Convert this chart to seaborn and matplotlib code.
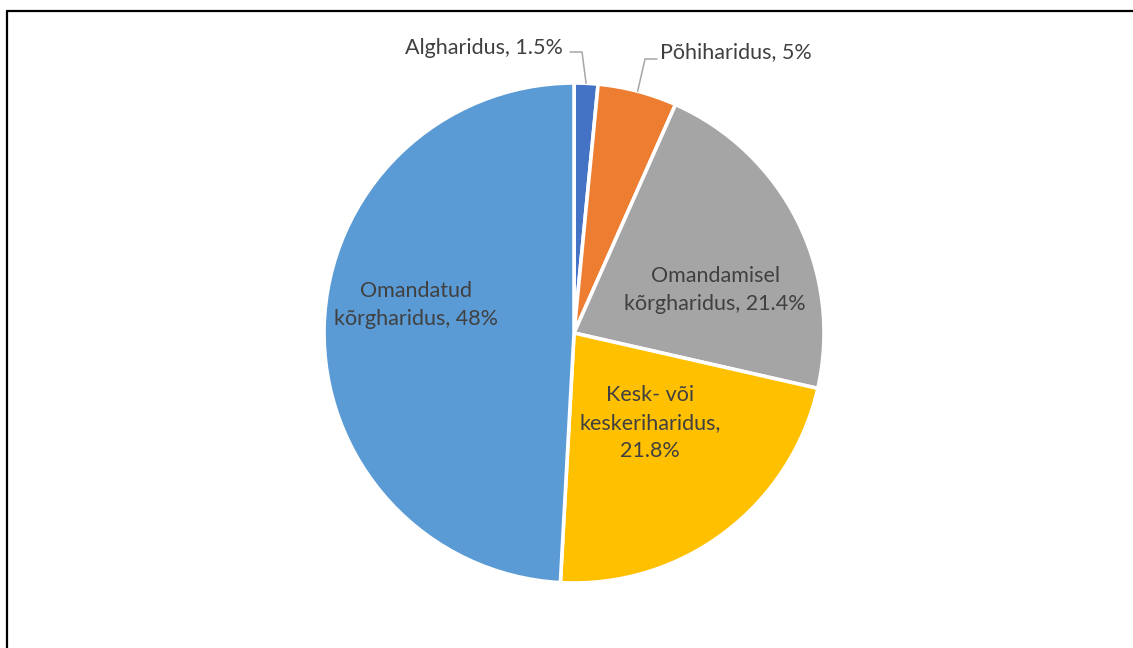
import numpy as np
import seaborn as sns
import matplotlib.pyplot as plt
from matplotlib.lines import Line2D

# data
categories = ["Algharidus", "Põhiharidus", "Omandamisel\nkõrgharidus",
              "Kesk- või\nkeskeriharidus,\n", "Omandatud\nkõrgharidus"]
values = [1.5, 5, 21.4, 21.8, 48]
value_labels = ["1.5%", "5%", "21.4%", "21.8%", "48%"]
colors = ["#4472C4", "#ED7D31", "#A5A5A5", "#FFC000", "#5B9BD5"]

sns.set_theme(style="white")
plt.rcParams["font.family"] = ["Lato", "DejaVu Sans"]

fig = plt.figure(figsize=(11.33, 6.48), dpi=100)
ax = fig.add_axes([0.2860, 0.1003, 0.4413, 0.7716])

wedges, _ = ax.pie(values, colors=colors, startangle=90, counterclock=False,
                   radius=1, wedgeprops=dict(edgecolor="white", linewidth=2.6))
ax.set_xlim(-1, 1)
ax.set_ylim(-1, 1)
ax.set_aspect("equal")
ax.axis("off")

txt_color = "#404040"
fs = 15.5

def label_text(i):
    name = categories[i]
    if name.endswith("\n"):
        return name + value_labels[i]
    return name + ", " + value_labels[i]

# inside labels (Excel best-fit positions)
inside_pos = {2: (0.564, 0.172), 3: (0.304, -0.36), 4: (-0.632, 0.112)}
for i, (x, y) in inside_pos.items():
    ax.text(x, y, label_text(i), ha="center", va="center", fontsize=fs,
            color=txt_color, linespacing=1.5)

# outside labels with leader lines
def mid_anchor(w):
    a = np.deg2rad((w.theta1 + w.theta2) / 2)
    return np.cos(a) * w.r, np.sin(a) * w.r

line_col = "#A6A6A6"
# Algharidus
x0, y0 = mid_anchor(wedges[0])
ax.plot([x0, 0.032, -0.016], [y0, 1.124, 1.124], color=line_col, lw=1.1, clip_on=False)
ax.text(-0.044, 1.14, label_text(0), ha="right", va="center", fontsize=fs, color=txt_color)
# Põhiharidus
x1, y1 = mid_anchor(wedges[1])
ax.plot([x1, 0.284, 0.332], [y1, 1.096, 1.096], color=line_col, lw=1.1, clip_on=False)
ax.text(0.344, 1.122, label_text(1), ha="left", va="center", fontsize=fs, color=txt_color)

# chart border (cropped)
fig.add_artist(Line2D([0.0066, 1.0], [0.9823, 0.9823], color="black", lw=1.6,
                      transform=fig.transFigure))
fig.add_artist(Line2D([0.0066, 0.0066], [0.0, 0.9823], color="black", lw=1.6,
                      transform=fig.transFigure))

plt.savefig("out.png", dpi=100)
